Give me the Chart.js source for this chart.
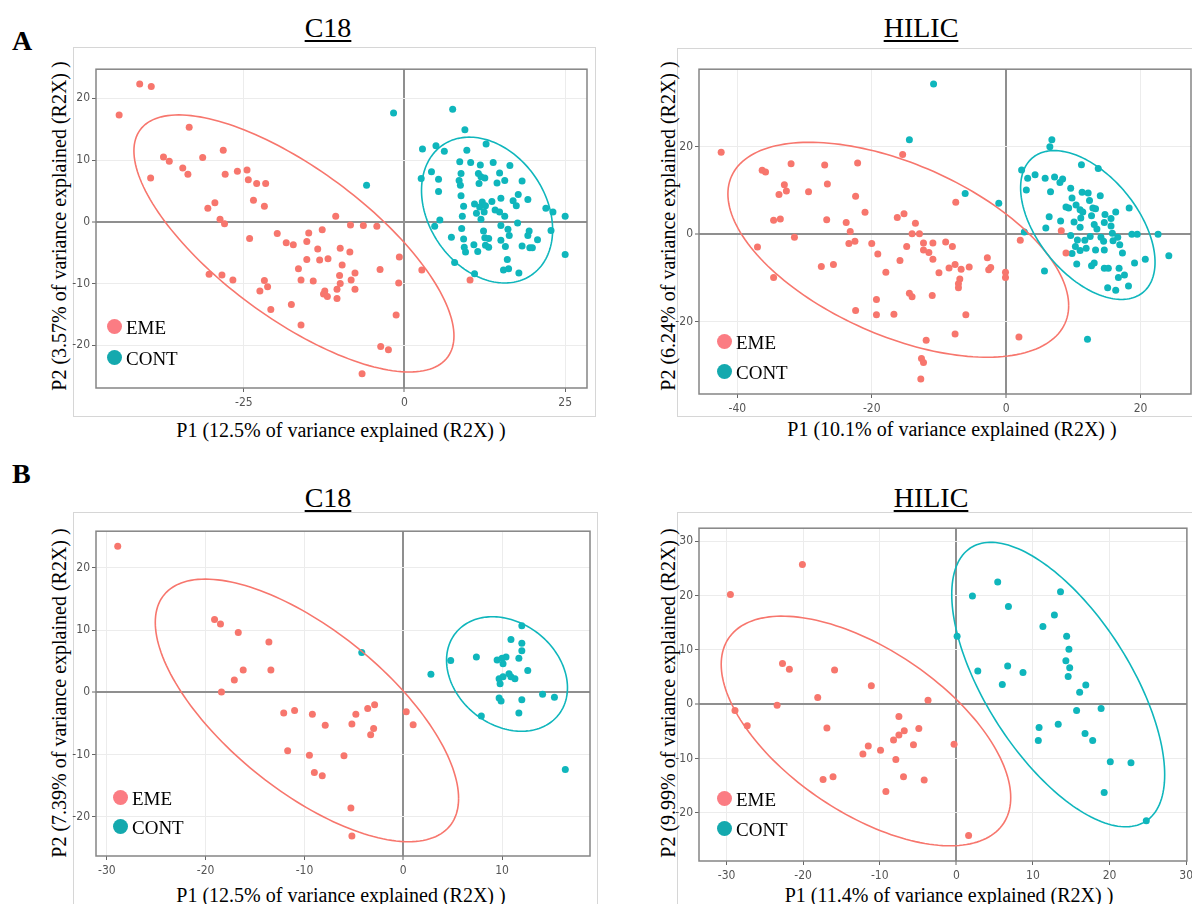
<!DOCTYPE html>
<html>
<head>
<meta charset="utf-8">
<script src="https://cdn.jsdelivr.net/npm/chart.js@4.4.1/dist/chart.umd.min.js"></script>
<style>
  html, body { margin: 0; padding: 0; background: #fff; }
  body { position: relative; width: 1192px; height: 904px; overflow: hidden; font-family: 'Liberation Serif', 'Times New Roman', serif; }
  .frame { position: absolute; border: 1px solid #d6d6d6; box-sizing: border-box; }
  .letter { position: absolute; font-weight: bold; font-size: 28px; line-height: 1; }
  .ptitle { position: absolute; font-size: 28px; line-height: 1; text-decoration: underline; text-decoration-thickness: 2px; text-underline-offset: 3px; transform: translateX(-50%); white-space: nowrap; }
  .xtitle { position: absolute; font-size: 20px; line-height: 1; transform: translate(-50%, -50%); white-space: nowrap; }
  .ytitle { position: absolute; font-size: 20px; line-height: 1; transform: translate(-50%, -50%) rotate(-90deg); white-space: nowrap; }
  .lg { position: absolute; font-size: 19px; line-height: 1; white-space: nowrap; }
  .lg i { position: absolute; width: 15px; height: 15px; border-radius: 50%; left: -19px; top: 1px; }
  canvas { position: absolute; }
</style>
</head>
<body>
<div class="letter" style="left:12px;top:27px">A</div>
<div class="letter" style="left:12px;top:460px">B</div>
<script>
'use strict';

// ── data ──────────────────────────────────────────────────────────────────────
// A / C18
const a1Eme = [[-41.2,22.3],[-39.4,21.9],[-44.4,17.3],[-33.5,15.3],[-28.2,11.6],[-37.5,10.5],[-36.6,9.8],[-31.4,10.4],
  [-34.5,8.7],[-33.7,7.7],[-39.5,7.1],[-27.9,7.7],[-26.0,8.2],[-24.5,8.4],[-24.3,6.8],[-23.0,6.2],[-21.6,6.2],[-23.5,3.5],
  [-21.8,2.5],[-29.5,3.1],[-30.6,2.2],[-28.7,0.4],[-28.0,-0.3],[-24.1,-2.7],[-19.8,-1.9],[-18.4,-3.4],[-17.3,-3.7],[-15.2,-3.2],
  [-14.9,-1.8],[-12.8,-1.3],[-10.7,0.9],[-8.4,-0.5],[-6.4,-0.6],[-4.3,-0.7],[-13.5,-4.4],[-10.0,-4.3],[-8.5,-4.9],[-15.2,-6.1],
  [-13.2,-6.2],[-11.9,-6.0],[-9.7,-7.0],[-16.5,-7.6],[-3.8,-7.7],[-0.8,-5.7],[-30.4,-8.5],[-28.4,-8.6],[-26.7,-9.4],[-21.8,-9.5],
  [-21.3,-10.5],[-22.5,-11.2],[-16.1,-9.4],[-14.2,-9.6],[-10.1,-8.7],[-10.0,-10.0],[-8.3,-9.4],[-7.7,-8.3],[-7.7,-10.9],[-10.5,-10.9],
  [-12.4,-11.2],[-12.6,-11.7],[-12.0,-12.1],[-10.5,-12.4],[-0.9,-9.9],[-20.8,-14.2],[-17.6,-13.4],[-16.1,-16.7],[-1.3,-15.1],
  [-3.7,-20.2],[-2.5,-20.7],[-6.6,-24.6],[2.7,-7.8],[10.2,-9.4]];
const a1Cont = [[-1.7,17.6],[-5.9,5.9],[7.5,18.2],[9.4,14.9],[12.7,12.6],[2.8,11.8],[4.9,12.3],[6.2,11.4],[9.7,11.6],[8.6,9.7],
  [10.3,9.6],[11.8,9.2],[13.8,9.6],[16.4,9.1],[4.2,8.1],[2.6,7.0],[5.3,6.9],[5.3,4.9],[8.8,7.8],[11.5,7.8],[11.9,7.3],[12.5,7.1],
  [14.8,7.9],[8.5,6.7],[8.7,5.9],[11.6,6.2],[14.4,6.3],[15.6,6.7],[18.3,6.6],[8.8,4.2],[15.0,3.8],[17.7,4.4],[19.2,3.6],[16.9,3.4],
  [10.9,2.9],[12.1,3.2],[13.6,3.3],[11.7,2.4],[9.2,2.5],[12.6,2.6],[17.4,2.6],[11.2,1.4],[12.4,1.6],[14.1,1.9],[14.8,1.6],[15.6,0.9],
  [9.0,0.9],[5.5,0.3],[11.9,0.4],[22.0,2.2],[23.1,1.6],[25.0,0.9],[4.7,-0.7],[8.9,-1.1],[12.3,-1.5],[15.0,-0.6],[16.1,-1.2],
  [17.6,-0.2],[19.4,-1.5],[22.8,-1.4],[19.2,-2.2],[7.3,-2.5],[9.2,-2.8],[12.5,-2.6],[13.1,-2.7],[15.0,-3.0],[16.3,-2.2],[20.7,-2.9],
  [9.3,-4.1],[10.8,-3.7],[12.6,-3.8],[13.1,-4.1],[15.7,-4.0],[18.3,-3.9],[19.5,-4.2],[19.9,-4.2],[9.5,-4.9],[11.4,-4.8],[16.0,-6.1],
  [7.8,-6.6],[16.2,-7.6],[15.4,-7.8],[17.8,-8.3],[10.9,-8.4],[25.0,-5.3]];
const a1XTicks = [-25, 0, 25];
const a1YTicks = [-20, -10, 0, 10, 20];
// ellipse: centre x, centre y, half-width, half-height, correlation
const a1EmeEll = [-17.2, -3.5, 24.9, 20.8, -0.72];
const a1ContEll = [12.85, 1.9, 10.2, 11.8, -0.27];

// A / HILIC
const a2Eme = [[-42.4,18.7],[-36.3,14.6],[-35.8,14.2],[-32.0,16.1],[-27.0,15.8],[-22.1,16.3],[-15.4,18.2],[-33.0,11.3],[-33.8,9.1],
  [-32.7,9.9],[-29.4,9.7],[-26.6,11.5],[-22.4,8.7],[-7.5,7.3],[-21.0,5.0],[-34.6,3.2],[-33.6,3.5],[-26.7,3.3],[-23.8,2.7],[-23.2,0.6],
  [-31.5,-0.7],[-16.2,3.8],[-15.2,4.7],[-13.5,2.5],[-14.0,0.1],[-12.9,0.1],[-37.0,-2.9],[-23.4,-2.1],[-22.5,-1.6],[-20.0,-2.1],
  [-19.1,-4.5],[-14.8,-2.8],[-12.3,-2.0],[-12.3,-3.6],[-10.9,-2.0],[-11.5,-4.2],[-10.9,-5.7],[-9.0,-1.8],[-8.0,-2.8],[-15.8,-6.0],
  [-27.5,-7.4],[-25.7,-6.9],[-34.6,-9.9],[-17.9,-8.7],[-10.0,-8.8],[-8.5,-7.7],[-7.6,-6.9],[-6.7,-8.0],[-5.5,-7.5],[-6.9,-10.2],
  [-7.1,-11.3],[-7.1,-12.2],[-2.8,-5.4],[-2.6,-8.1],[-2.3,-7.6],[-0.1,-8.7],[-0.1,-9.9],[2.1,-1.4],[8.2,0.8],[8.9,-4.3],[-14.4,-13.5],
  [-14.0,-14.3],[-11.0,-14.0],[-19.3,-14.9],[-22.4,-17.4],[-19.3,-18.4],[-16.7,-18.3],[-6.0,-18.4],[-7.6,-22.8],[-11.9,-24.2],
  [1.9,-23.5],[-12.6,-28.4],[-12.3,-29.3],[-12.7,-33.1]];
const a2Cont = [[-10.8,34.3],[-14.4,21.6],[6.8,21.6],[6.5,20.0],[-6.1,9.3],[-1.1,7.1],[2.7,0.5],[5.7,-8.4],[12.1,-24.0],[2.3,14.7],
  [3.2,12.8],[4.3,13.6],[3.0,10.1],[5.8,12.8],[7.2,13.1],[8.0,11.8],[8.4,12.6],[6.6,9.7],[9.6,10.5],[11.2,15.9],[13.7,15.0],[11.3,9.6],
  [12.2,9.4],[14.0,8.8],[9.8,8.3],[12.4,7.7],[8.9,6.2],[9.3,6.0],[10.4,6.7],[11.4,5.1],[12.9,6.0],[13.3,5.8],[18.3,6.0],[6.4,4.0],
  [8.1,3.0],[10.1,2.8],[11.1,3.7],[12.7,4.2],[14.7,4.5],[15.6,3.6],[16.3,5.1],[5.9,1.4],[11.0,1.6],[13.1,2.2],[13.5,1.2],[14.6,2.7],
  [15.6,1.9],[18.7,0.0],[19.5,0.0],[22.6,0.0],[10.6,-1.3],[11.7,-1.4],[12.5,-0.5],[14.1,-0.7],[14.5,-1.6],[15.9,-1.5],[16.6,-0.7],
  [15.8,0.2],[10.3,-2.8],[9.8,-4.4],[11.0,-3.7],[11.9,-3.2],[13.3,-3.6],[14.6,-3.6],[17.3,-4.3],[16.9,-2.4],[10.5,-6.8],[12.7,-7.2],
  [13.1,-6.6],[14.6,-7.8],[15.2,-7.8],[16.8,-7.8],[19.1,-6.6],[20.7,-5.7],[24.2,-4.9],[16.7,-9.9],[17.6,-9.3],[15.1,-12.2],
  [16.3,-12.8],[18.2,-11.8],[11.0,5.6],[9.6,-0.3]];
const a2XTicks = [-40, -20, 0, 20];
const a2YTicks = [-20, 0, 20];
const a2EmeEll = [-16.05, -3.55, 25.35, 24.55, -0.52];
const a2ContEll = [12.15, 2.1, 10.0, 17.0, -0.5];

// B / C18
const b1Eme = [[-28.9,23.5],[-19.1,11.7],[-18.5,11.0],[-16.7,9.6],[-13.6,8.1],[-16.2,3.6],[-13.4,3.6],[-17.1,2.0],[-18.4,0.05],
  [-12.1,-3.3],[-11.0,-2.9],[-9.2,-3.5],[-7.9,-5.3],[-4.8,-3.5],[-3.6,-2.6],[-2.9,-2.0],[-5.2,-5.1],[-3.0,-5.8],[-3.3,-6.8],
  [0.3,-3.1],[1.0,-5.2],[-11.7,-9.4],[-9.5,-10.1],[-6.0,-10.2],[-9.0,-12.9],[-8.2,-13.4],[-5.3,-18.6],[-5.2,-23.1]];
const b1Cont = [[-4.2,6.4],[2.8,2.9],[4.8,5.1],[7.4,5.7],[9.5,5.2],[10.0,5.5],[10.4,5.7],[10.1,4.6],[11.7,5.5],[10.9,8.5],[12.0,10.7],
  [12.0,7.9],[12.0,6.7],[12.6,3.5],[9.7,2.2],[10.1,2.5],[9.8,1.4],[10.7,3.0],[10.9,2.5],[11.3,2.2],[9.7,-0.9],[9.9,-1.4],[12.0,-1.2],
  [14.1,-0.3],[15.3,-0.8],[7.9,-3.8],[11.7,-3.3],[16.4,-12.4]];
const b1XTicks = [-30, -20, -10, 0, 10];
const b1YTicks = [-20, -10, 0, 10, 20];
const b1EmeEll = [-9.75, -2.9, 15.35, 21.1, -0.67];
const b1ContEll = [10.5, 2.95, 6.12, 9.2, -0.24];

// B / HILIC
const b2Eme = [[-29.5,20.2],[-20.1,25.7],[-28.9,-1.2],[-27.3,-4.0],[-23.4,-0.2],[-22.7,7.5],[-21.8,6.4],[-18.1,1.2],[-15.9,6.3],
  [-11.1,3.4],[-16.9,-4.4],[-3.7,0.7],[-7.5,-2.3],[-8.2,-6.6],[-7.5,-5.7],[-6.8,-4.9],[-4.9,-4.5],[-5.6,-7.5],[-11.5,-7.7],
  [-12.2,-9.2],[-9.9,-8.5],[-7.9,-10.2],[-0.3,-7.4],[-17.4,-13.9],[-16.1,-13.4],[-6.9,-13.4],[-4.2,-14.0],[-9.2,-16.1],[1.6,-24.2]];
const b2Cont = [[0.1,12.5],[5.4,22.5],[2.1,19.9],[6.8,18.0],[13.6,20.7],[12.8,16.4],[11.3,14.3],[14.4,12.5],[14.7,10.1],[14.3,8.0],
  [14.8,6.7],[14.6,5.1],[2.8,6.1],[6.7,7.0],[8.7,5.8],[6.0,3.6],[16.9,3.5],[16.1,2.2],[15.7,-1.2],[18.9,-0.8],[10.8,-4.3],
  [13.3,-3.7],[10.7,-6.7],[16.8,-5.4],[17.8,-6.7],[20.1,-10.6],[22.8,-10.8],[19.3,-16.3],[24.8,-21.5]];
const b2XTicks = [-30, -20, -10, 0, 10, 20, 30];
const b2YTicks = [-20, -10, 0, 10, 20, 30];
const b2EmeEll = [-11.8, -4.95, 18.9, 21.15, -0.58];
const b2ContEll = [13.3, 3.6, 13.9, 26.2, -0.634];

const groups = ['EME', 'CONT'];

// ── style ─────────────────────────────────────────────────────────────────────
const RED = '#F7766D';
const TEAL = '#0FB6BC';
const LEG_RED = '#FB7C83';
const LEG_TEAL = '#14A9AE';
const GRID = '#ececec';
const ZERO = '#8f8f8f';
const FRAME = '#858585';
const TICKFONT = "'Liberation Sans Narrow', 'DejaVu Sans Condensed', 'Roboto Condensed', sans-serif";

const YW = 32, XH = 24, PT = 3, PR = 3;

const panels = [
  { id: 'a1', title: 'C18', tx: 328, ty: 14, plot: [96, 63, 492, 325], frame: [73, 47, 523, 370, true],
    xr: [-48, 28.4], yr: [-26.9, 24.7], xt: a1XTicks, yt: a1YTicks, eme: a1Eme, cont: a1Cont, ell: [a1EmeEll, a1ContEll],
    xlab: 'P1 (12.5% of variance explained (R2X) )', ylab: 'P2 (3.57% of variance explained (R2X) )',
    xl: [341, 430], yl: [59, 226], lg: [114, 327, 358] },
  { id: 'a2', title: 'HILIC', tx: 921, ty: 14, plot: [699, 63, 493, 331], frame: [677, 48, 530, 369, true],
    xr: [-45.7, 27.5], yr: [-36.5, 37.7], xt: a2XTicks, yt: a2YTicks, eme: a2Eme, cont: a2Cont, ell: [a2EmeEll, a2ContEll],
    xlab: 'P1 (10.1% of variance explained (R2X) )', ylab: 'P2 (6.24% of variance explained (R2X) )',
    xl: [952, 429], yl: [668, 226], lg: [724, 342, 372] },
  { id: 'b1', title: 'C18', tx: 328, ty: 484, plot: [96, 525, 495, 331], frame: [73, 512, 525, 420, false],
    xr: [-31.1, 18.9], yr: [-26.3, 25.9], xt: b1XTicks, yt: b1YTicks, eme: b1Eme, cont: b1Cont, ell: [b1EmeEll, b1ContEll],
    xlab: 'P1 (12.5% of variance explained (R2X) )', ylab: 'P2 (7.39% of variance explained (R2X) )',
    xl: [341, 895], yl: [59, 693], lg: [120, 798, 827] },
  { id: 'b2', title: 'HILIC', tx: 931, ty: 484, plot: [699, 522, 495, 339], frame: [677, 512, 530, 420, false],
    xr: [-33.6, 30.1], yr: [-28.9, 32.4], xt: b2XTicks, yt: b2YTicks, eme: b2Eme, cont: b2Cont, ell: [b2EmeEll, b2ContEll],
    xlab: 'P1 (11.4% of variance explained (R2X) )', ylab: 'P2 (9.99% of variance explained (R2X) )',
    xl: [949, 895], yl: [668, 693], lg: [724, 799, 829] },
];

// ── helpers ───────────────────────────────────────────────────────────────────
function el(tag, cls, style, text) {
  const e = document.createElement(tag);
  if (cls) e.className = cls;
  if (style) e.style.cssText = style;
  if (text) e.textContent = text;
  document.body.appendChild(e);
  return e;
}

function toPts(arr) {
  return arr.map(p => ({ x: p[0], y: p[1] }));
}

// plot frame around chart area
const framePlugin = {
  id: 'plotFrame',
  afterDatasetsDraw(chart) {
    const a = chart.chartArea, ctx = chart.ctx;
    ctx.save();
    ctx.strokeStyle = FRAME;
    ctx.lineWidth = 1.5;
    ctx.strokeRect(a.left, a.top, a.right - a.left, a.bottom - a.top);
    ctx.restore();
  }
};

// confidence ellipses, given in data units
const ellipsePlugin = {
  id: 'ellipses',
  afterDatasetsDraw(chart, args, opts) {
    const a = chart.chartArea, ctx = chart.ctx;
    const xs = chart.scales.x, ys = chart.scales.y;
    ctx.save();
    ctx.beginPath();
    ctx.rect(a.left, a.top, a.right - a.left, a.bottom - a.top);
    ctx.clip();
    (opts.list || []).forEach((e, i) => {
      const [cx, cy, w, h, r] = e;
      const s = Math.sqrt(1 - r * r);
      ctx.beginPath();
      for (let k = 0; k <= 180; k++) {
        const t = k / 180 * Math.PI * 2;
        const px = xs.getPixelForValue(cx + w * Math.cos(t));
        const py = ys.getPixelForValue(cy + h * (r * Math.cos(t) + s * Math.sin(t)));
        if (k === 0) ctx.moveTo(px, py); else ctx.lineTo(px, py);
      }
      ctx.strokeStyle = i === 0 ? RED : TEAL;
      ctx.lineWidth = 1.6;
      ctx.stroke();
    });
    ctx.restore();
  }
};

function axis(range, ticks, isX) {
  return {
    type: 'linear',
    min: range[0],
    max: range[1],
    afterBuildTicks: ax => { ax.ticks = ticks.map(v => ({ value: v })); },
    afterFit: ax => { if (isX) ax.height = XH; else ax.width = YW; },
    border: { display: false },
    grid: {
      color: c => (c.tick && c.tick.value === 0 ? ZERO : GRID),
      lineWidth: c => (c.tick && c.tick.value === 0 ? 2 : 1),
      tickColor: '#666',
      tickLength: 4,
      tickWidth: 1,
    },
    ticks: {
      color: '#555',
      font: { family: TICKFONT, size: 12 },
      padding: isX ? 4 : 2,
      maxRotation: 0,
      callback: v => String(v),
    },
  };
}

// ── render ────────────────────────────────────────────────────────────────────
function renderPanel(p) {
  const [fl, ft, fw, fh, bottom] = p.frame;
  el('div', 'frame', `left:${fl}px;top:${ft}px;width:${fw}px;height:${fh}px;${bottom ? '' : 'border-bottom:none;'}`);

  el('div', 'ptitle', `left:${p.tx}px;top:${p.ty}px`, p.title);
  el('div', 'xtitle', `left:${p.xl[0]}px;top:${p.xl[1]}px`, p.xlab);
  el('div', 'ytitle', `left:${p.yl[0]}px;top:${p.yl[1]}px`, p.ylab);

  const [pl, pt, pw, ph] = p.plot;
  const cv = el('canvas', null, `left:${pl - YW}px;top:${pt - PT}px`);
  cv.width = pw + YW + PR;
  cv.height = ph + PT + XH;

  new Chart(cv, {
    type: 'scatter',
    data: {
      datasets: [
        { label: groups[0], data: toPts(p.eme), backgroundColor: RED, borderWidth: 0, pointRadius: 3.5 },
        { label: groups[1], data: toPts(p.cont), backgroundColor: TEAL, borderWidth: 0, pointRadius: 3.5 },
      ]
    },
    options: {
      responsive: false,
      animation: false,
      layout: { padding: { top: PT, right: PR, left: 0, bottom: 0 } },
      plugins: {
        legend: { display: false },
        tooltip: { enabled: false },
        ellipses: { list: p.ell },
      },
      scales: {
        x: axis(p.xr, p.xt, true),
        y: axis(p.yr, p.yt, false),
      },
    },
    plugins: [ellipsePlugin, framePlugin],
  });

  // legend
  const [lx, ly1, ly2] = p.lg;
  [[groups[0], ly1, LEG_RED], [groups[1], ly2, LEG_TEAL]].forEach(([name, y, col]) => {
    const d = el('div', 'lg', `left:${lx + 12}px;top:${y - 9}px`, name);
    const dot = document.createElement('i');
    dot.style.background = col;
    d.appendChild(dot);
  });
}

panels.forEach(renderPanel);
</script>
</body>
</html>
